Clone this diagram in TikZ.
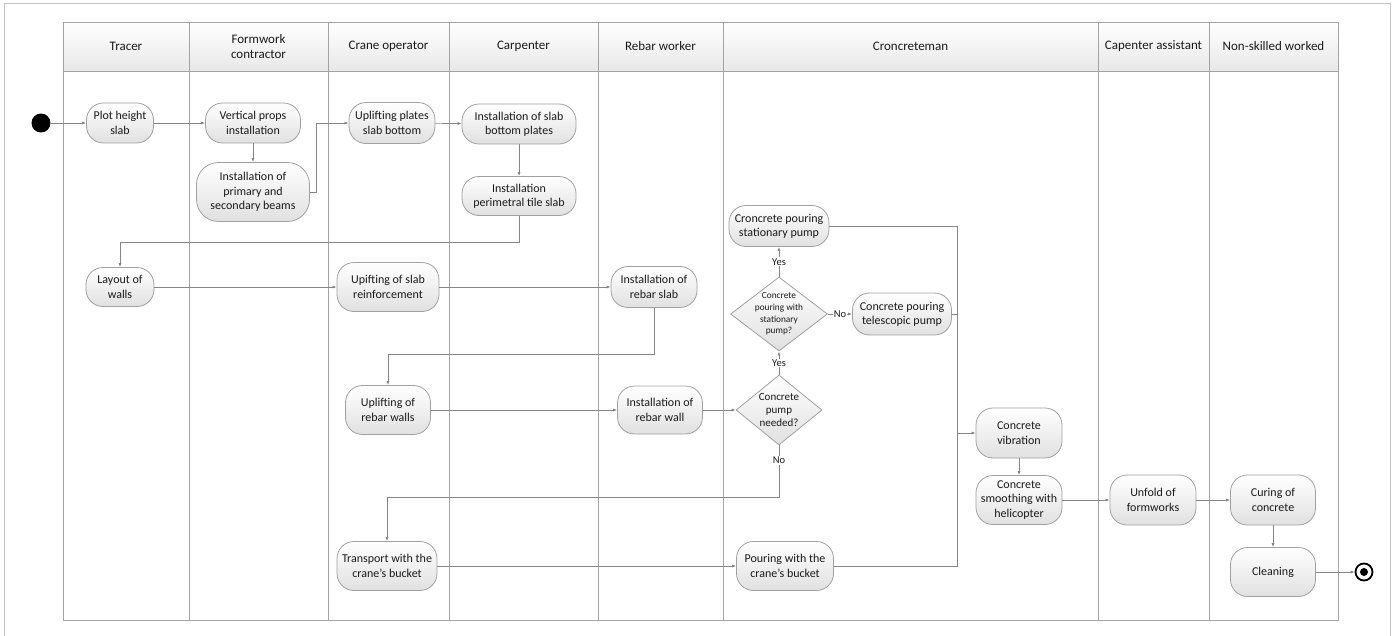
\documentclass[tikz,border=0pt]{standalone}
\usepackage{fontspec}
\setmainfont{Carlito}
\usetikzlibrary{arrows.meta,shapes.geometric,calc}
\definecolor{framegray}{HTML}{C4C4C4}
\definecolor{lanegray}{HTML}{A3A3A3}
\definecolor{wiregray}{HTML}{858585}
\definecolor{boxgray}{HTML}{A0A0A0}
\definecolor{inkgray}{HTML}{1A1A1A}
\begin{document}
\begin{tikzpicture}[x=1pt,y=-1pt,
  lane/.style={draw=lanegray, line width=0.9pt},
  hdr/.style={draw=lanegray, line width=0.9pt, top color=white, bottom color=black!9,
    minimum height=49pt, inner sep=0pt, align=center, text=inkgray,
    font=\fontsize{13}{15.7}\selectfont},
  act/.style={draw=boxgray, line width=0.8pt, rounded corners=17pt,
    top color=white, bottom color=black!12, inner sep=0pt, align=center,
    text=inkgray, font=\fontsize{12}{14.3}\selectfont},
  choice/.style={diamond, draw=boxgray, line width=0.8pt, top color=white,
    bottom color=black!12, inner sep=0pt},
  wire/.style={draw=wiregray, line width=0.7pt},
  flow/.style={wire, -{Latex[length=4pt,width=3pt]}},
  tag/.style={fill=white, inner sep=1pt, text=inkgray,
    font=\fontsize{10.5}{12}\selectfont}
]
\useasboundingbox (0,0) rectangle (1393,635);

% page frame
\draw[framegray, line width=0.8pt] (4,640) -- (4,3) -- (1390,3) -- (1390,640);

% swimlane bodies
\draw[lane] (63,71) rectangle (189,620);
\draw[lane] (189,71) rectangle (328,620);
\draw[lane] (328,71) rectangle (449,620);
\draw[lane] (449,71) rectangle (598,620);
\draw[lane] (598,71) rectangle (723,620);
\draw[lane] (723,71) rectangle (1098,620);
\draw[lane] (1098,71) rectangle (1209,620);
\draw[lane] (1209,71) rectangle (1338,620);

% swimlane headers
\node[hdr, minimum width=126pt] (h1) at (126,46.5) {Tracer};
\node[hdr, minimum width=139pt] (h2) at (258.5,46.5) {Formwork\\contractor};
\node[hdr, minimum width=121pt] (h3) at (388.5,46.5) {Crane operator};
\node[hdr, minimum width=149pt] (h4) at (523.5,46.5) {Carpenter};
\node[hdr, minimum width=125pt] (h5) at (660.5,46.5) {Rebar worker};
\node[hdr, minimum width=375pt] (h6) at (910.5,46.5) {Croncreteman};
\node[hdr, minimum width=111pt] (h7) at (1153.5,46.5) {Capenter assistant};
\node[hdr, minimum width=129pt] (h8) at (1273.5,46.5) {Non-skilled worked};

% initial and final states
\node[circle, fill=black, minimum size=19pt, inner sep=0pt] (start) at (41,123) {};
\node[circle, draw=black, fill=white, line width=1.8pt, minimum size=17pt, inner sep=0pt] (end) at (1364,572) {};
\node[circle, fill=black, minimum size=8pt, inner sep=0pt] (enddot) at (end.center) {};

% activities
\node[act, minimum width=67pt, minimum height=40pt] (plot) at (120,123) {Plot height\\slab};
\node[act, minimum width=95pt, minimum height=40pt] (vprops) at (253,123) {Vertical props\\installation};
\node[act, minimum width=113pt, minimum height=59pt, rounded corners=22pt] (beams) at (253,192) {Installation of\\primary and\\secondary beams};
\node[act, minimum width=86pt, minimum height=41pt] (uplates) at (392,123) {Uplifting plates\\slab bottom};
\node[act, minimum width=114pt, minimum height=40pt] (slabbot) at (519,124) {Installation of slab\\bottom plates};
\node[act, minimum width=114pt, minimum height=39pt] (perim) at (519,196) {Installation\\perimetral tile slab};
\node[act, minimum width=68pt, minimum height=39pt] (layout) at (120,287) {Layout of\\walls};
\node[act, minimum width=102pt, minimum height=49pt] (upslab) at (388,287) {Upifting of slab\\reinforcement};
\node[act, minimum width=86pt, minimum height=41pt] (rebslab) at (654,287) {Installation of\\rebar slab};
\node[act, minimum width=85pt, minimum height=49pt] (uwalls) at (388,410) {Uplifting of\\rebar walls};
\node[act, minimum width=85pt, minimum height=48pt] (rebwall) at (660,410) {Installation of\\rebar wall};
\node[act, minimum width=100pt, minimum height=41pt] (stat) at (779,226) {Croncrete pouring\\stationary pump};
\node[act, minimum width=99pt, minimum height=42pt] (tele) at (902,314) {Concrete pouring\\telescopic pump};
\node[act, minimum width=100pt, minimum height=49pt] (transport) at (387,566) {Transport with the\\crane’s bucket};
\node[act, minimum width=97pt, minimum height=49pt] (pour) at (785,566) {Pouring with the\\crane’s bucket};
\node[act, minimum width=86pt, minimum height=50pt] (vib) at (1019,433) {Concrete\\vibration};
\node[act, minimum width=86pt, minimum height=49pt] (smooth) at (1019,500) {Concrete\\smoothing with\\helicopter};
\node[act, minimum width=86pt, minimum height=50pt] (unfold) at (1153,500) {Unfold of\\formworks};
\node[act, minimum width=85pt, minimum height=50pt] (curing) at (1273,500) {Curing of\\concrete};
\node[act, minimum width=85pt, minimum height=49pt] (clean) at (1273,572) {Cleaning};

% decisions
\node[choice, minimum width=97pt, minimum height=74pt,
  label={[align=center, text=inkgray, font=\fontsize{9.3}{11.7}\selectfont]center:Concrete\\pouring with\\stationary\\pump?}] (d1) at (779,314) {};
\node[choice, minimum width=86pt, minimum height=70pt,
  label={[align=center, text=inkgray, font=\fontsize{11}{13}\selectfont]center:Concrete\\pump\\needed?}] (d2) at (779,410) {};

% control flow
\draw[flow] (start) -- (plot);
\draw[flow] (plot) -- (vprops);
\draw[flow] (vprops) -- (beams);
\draw[flow] (beams.east) -- ++(6,0) |- (uplates.west);
\draw[flow] (uplates) -- (slabbot);
\draw[flow] (slabbot) -- (perim);
\draw[flow] (perim.south) -- ++(0,26) -| (layout.north);
\draw[flow] (layout) -- (upslab);
\draw[flow] (upslab) -- (rebslab);
\draw[flow] (rebslab.south) -- ++(0,46) -| (uwalls.north);
\draw[flow] (uwalls) -- (rebwall);
\draw[flow] (rebwall) -- (d2);
\draw[flow] (d2) -- node[tag] {Yes} (d1);
\draw[flow] (d1) -- node[tag] {Yes} (stat);
\draw[flow] (d1) -- node[tag] {No} (tele);
\draw[flow] (d2.south) -- node[tag, pos=0.29] {No} ++(0,52) -| (transport.north);
\draw[flow] (transport) -- (pour);

% the three pouring methods join before vibration
\coordinate (merge) at (957,433);
\draw[wire] (stat.east) -| (merge);
\draw[wire] (tele.east) -- (tele.east -| merge);
\draw[wire] (pour.east) -| (merge);
\draw[flow] (merge) -- (vib);

\draw[flow] (vib) -- (smooth);
\draw[flow] (smooth) -- (unfold);
\draw[flow] (unfold) -- (curing);
\draw[flow] (curing) -- (clean);
\draw[flow] (clean) -- (end);
\end{tikzpicture}
\end{document}
